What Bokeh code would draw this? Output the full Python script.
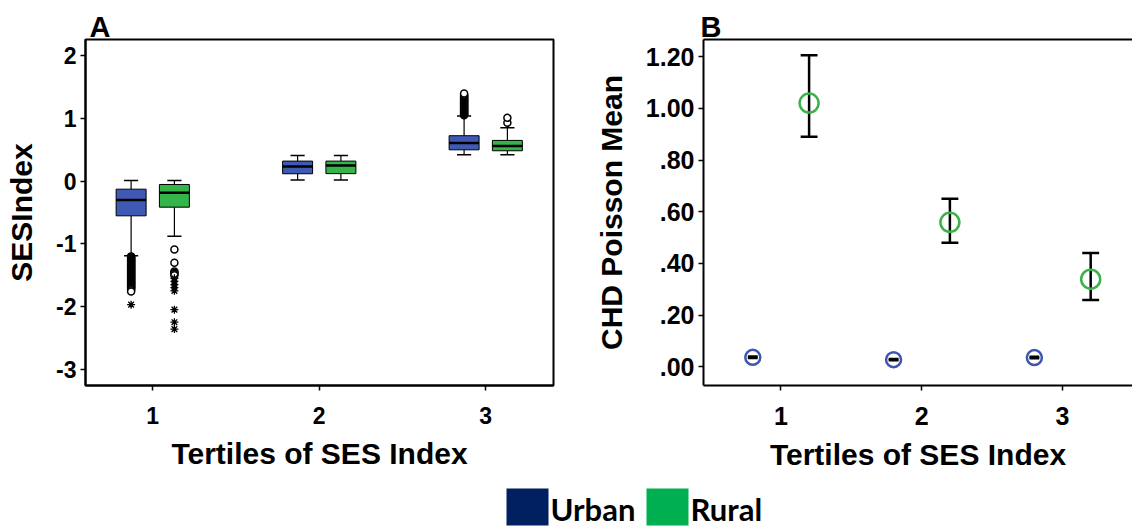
from bokeh.plotting import figure
from bokeh.layouts import row, column
from bokeh.models import Range1d, FixedTicker, LinearAxis, CustomJSTickFormatter
from bokeh.core.properties import value
from bokeh.embed import file_html
from bokeh.resources import INLINE

# ---------------- data ----------------
tertiles = [1, 2, 3]
groups = ["Urban", "Rural"]

# Panel A: SES index distribution by tertile (box plot summary)
urban_q1 = [-0.553, 0.118, 0.500]
urban_med = [-0.300, 0.235, 0.607]
urban_q3 = [-0.128, 0.320, 0.725]
urban_lo_whisker = [-1.19, 0.02, 0.42]
urban_hi_whisker = [0.01, 0.41, 1.04]

rural_q1 = [-0.415, 0.120, 0.485]
rural_med = [-0.186, 0.250, 0.560]
rural_q3 = [-0.053, 0.320, 0.650]
rural_lo_whisker = [-0.88, 0.02, 0.42]
rural_hi_whisker = [0.01, 0.41, 0.853]

# outliers (circles) and extreme values (asterisks)
urban_outliers_t1 = [-1.20, -1.21, -1.22, -1.23, -1.24, -1.25, -1.26, -1.27, -1.28,
                     -1.29, -1.30, -1.31, -1.32, -1.33, -1.34, -1.35, -1.36, -1.37,
                     -1.38, -1.39, -1.40, -1.41, -1.42, -1.43, -1.44, -1.45, -1.46,
                     -1.47, -1.48, -1.49, -1.50, -1.51, -1.52, -1.53, -1.54, -1.55,
                     -1.56, -1.57, -1.58, -1.59, -1.60, -1.61, -1.62, -1.63, -1.64,
                     -1.65, -1.66, -1.67, -1.68, -1.69, -1.70, -1.71, -1.72, -1.74,
                     -1.76]
urban_extremes_t1 = [-1.97]
rural_outliers_t1 = [-1.09, -1.30, -1.44, -1.46, -1.48, -1.50]
rural_extremes_t1 = [-1.55, -1.60, -1.65, -1.70, -1.75, -2.05, -2.25, -2.36]
urban_outliers_t3 = [1.05, 1.06, 1.07, 1.08, 1.09, 1.10, 1.11, 1.12, 1.13, 1.14,
                     1.15, 1.16, 1.17, 1.18, 1.19, 1.20, 1.21, 1.22, 1.23, 1.24,
                     1.25, 1.26, 1.27, 1.28, 1.29, 1.30, 1.31, 1.32, 1.33, 1.34,
                     1.35, 1.36, 1.37, 1.38, 1.40]
rural_outliers_t3 = [0.93, 1.01]

# Panel B: CHD Poisson mean with 95% CI
urban_mean = [0.037, 0.028, 0.036]
urban_ci_lo = [0.034, 0.026, 0.033]
urban_ci_hi = [0.040, 0.030, 0.039]
rural_mean = [1.020, 0.559, 0.339]
rural_ci_lo = [0.890, 0.480, 0.259]
rural_ci_hi = [1.205, 0.650, 0.440]

y_ticks_a = [-3, -2, -1, 0, 1, 2]
y_labels_a = ["-3", "-2", "-1", "0", "1", "2"]
y_ticks_b = [0.0, 0.2, 0.4, 0.6, 0.8, 1.0, 1.2]
y_labels_b = [".00", ".20", ".40", ".60", ".80", "1.00", "1.20"]

# ---------------- styling ----------------
FONT = "Liberation Sans"
BOX_COLORS = {"Urban": "#3F5AB4", "Rural": "#35B44A"}
MARK_COLORS = {"Urban": "#3F55B0", "Rural": "#3DB24A"}
LEGEND_COLORS = ["#002060", "#00B050"]

PANEL_H = 473
BOTTOM = 88
LEGEND_H = 531 - PANEL_H

LABEL_JS = """
for (let i = 0; i < vals.length; i++) {
    if (Math.abs(vals[i] - tick) < 1e-9) { return labs[i]; }
}
return '';
"""


def style_axes(p, tick_size):
    for ax in (p.xaxis[0], p.yaxis[0]):
        ax.axis_line_width = 2
        ax.axis_line_color = "black"
        ax.major_tick_line_width = 1.5
        ax.major_tick_out = 5
        ax.major_tick_in = 0
        ax.minor_tick_line_color = None
        ax.major_label_text_font = FONT
        ax.major_label_text_font_style = "bold"
        ax.major_label_text_font_size = tick_size
        ax.major_label_text_color = "black"
        ax.axis_label_text_font = FONT
        ax.axis_label_text_font_style = "bold"
        ax.axis_label_text_font_size = "30px"
        ax.axis_label_text_color = "black"
    p.xaxis[0].major_label_standoff = 16
    p.xaxis[0].axis_label_standoff = 10
    p.yaxis[0].major_label_standoff = 4
    p.yaxis[0].axis_label_standoff = 15
    p.xgrid.visible = False
    p.ygrid.visible = False
    p.background_fill_color = "white"
    p.border_fill_color = "white"


def style_title(p, offset):
    p.title.text_font = FONT
    p.title.text_font_size = "29px"
    p.title.text_font_style = "bold"
    p.title.text_color = "black"
    p.title.align = "left"
    p.title.offset = offset
    p.title.standoff = -6


# ---------------- Panel A ----------------
pA = figure(width=590, height=PANEL_H, x_range=Range1d(0.596, 3.407),
            y_range=Range1d(-3.26, 2.26), min_border_left=85, min_border_right=37,
            min_border_top=39, min_border_bottom=BOTTOM, output_backend="svg",
            toolbar_location=None, title="A")
pA.outline_line_color = "black"
pA.outline_line_width = 2
style_title(pA, 4)
style_axes(pA, "23px")
pA.xaxis[0].ticker = FixedTicker(ticks=tertiles)
pA.yaxis[0].ticker = FixedTicker(ticks=y_ticks_a)
pA.yaxis[0].formatter = CustomJSTickFormatter(
    args=dict(vals=y_ticks_a, labs=y_labels_a), code=LABEL_JS)
pA.xaxis[0].axis_label = "Tertiles of SES Index"
pA.yaxis[0].axis_label = "SESIndex"

box_offset = 0.13
box_width = 0.18
cap_width = 0.085

box_stats = {
    "Urban": (urban_q1, urban_med, urban_q3, urban_lo_whisker, urban_hi_whisker, -box_offset),
    "Rural": (rural_q1, rural_med, rural_q3, rural_lo_whisker, rural_hi_whisker, box_offset),
}

for name, (q1, med, q3, lw, uw, off) in box_stats.items():
    xs = [t + off for t in tertiles]
    # whisker stems
    pA.segment(x0=xs, y0=q3, x1=xs, y1=uw, line_color="black", line_width=1.2)
    pA.segment(x0=xs, y0=q1, x1=xs, y1=lw, line_color="black", line_width=1.2)
    # whisker caps
    pA.segment(x0=[x - cap_width / 2 for x in xs], y0=uw,
               x1=[x + cap_width / 2 for x in xs], y1=uw, line_color="black", line_width=1.5)
    pA.segment(x0=[x - cap_width / 2 for x in xs], y0=lw,
               x1=[x + cap_width / 2 for x in xs], y1=lw, line_color="black", line_width=1.5)
    # boxes
    pA.vbar(x=xs, width=box_width, top=q3, bottom=q1, fill_color=BOX_COLORS[name],
            line_color="black", line_width=1)
    # medians
    pA.segment(x0=[x - box_width / 2 for x in xs], y0=med,
               x1=[x + box_width / 2 for x in xs], y1=med, line_color="black", line_width=2.5)

outlier_sets = [
    (1 - box_offset, urban_outliers_t1),
    (1 + box_offset, rural_outliers_t1),
    (3 - box_offset, urban_outliers_t3),
    (3 + box_offset, rural_outliers_t3),
]
for xpos, vals in outlier_sets:
    pA.scatter(x=[xpos] * len(vals), y=vals, marker="circle", size=7,
               fill_color="white", line_color="black", line_width=1.5)

extreme_sets = [
    (1 - box_offset, urban_extremes_t1),
    (1 + box_offset, rural_extremes_t1),
]
for xpos, vals in extreme_sets:
    pA.scatter(x=[xpos] * len(vals), y=vals, marker="asterisk", size=8,
               line_color="black", line_width=1.3)

# ---------------- Panel B ----------------
pB = figure(width=542, height=PANEL_H, x_range=Range1d(0.45, 3.497),
            y_range=Range1d(-0.072, 1.266), min_border_left=113, min_border_right=0,
            min_border_top=39, min_border_bottom=BOTTOM, output_backend="svg",
            toolbar_location=None, title="B")
pB.outline_line_color = None
style_title(pB, -3)
style_axes(pB, "25px")
pB.xaxis[0].ticker = FixedTicker(ticks=tertiles)
pB.yaxis[0].ticker = FixedTicker(ticks=y_ticks_b)
pB.yaxis[0].formatter = CustomJSTickFormatter(
    args=dict(vals=y_ticks_b, labs=y_labels_b), code=LABEL_JS)
pB.xaxis[0].axis_label = "Tertiles of SES Index"
pB.yaxis[0].axis_label = "CHD Poisson Mean"

# top border line of the frame
top_axis = LinearAxis(ticker=FixedTicker(ticks=[]), axis_line_width=2,
                      axis_line_color="black", major_tick_line_color=None,
                      minor_tick_line_color=None, major_label_text_font_size="0px")
pB.add_layout(top_axis, "above")

point_offset = 0.2
series_b = {
    "Urban": (urban_mean, urban_ci_lo, urban_ci_hi, -point_offset, 0.07, 15),
    "Rural": (rural_mean, rural_ci_lo, rural_ci_hi, point_offset, 0.12, 19),
}
for name, (mean, lo, hi, off, cw, msize) in series_b.items():
    xs = [t + off for t in tertiles]
    pB.segment(x0=xs, y0=lo, x1=xs, y1=hi, line_color="black", line_width=2.5)
    pB.segment(x0=[x - cw / 2 for x in xs], y0=lo, x1=[x + cw / 2 for x in xs], y1=lo,
               line_color="black", line_width=2.5)
    pB.segment(x0=[x - cw / 2 for x in xs], y0=hi, x1=[x + cw / 2 for x in xs], y1=hi,
               line_color="black", line_width=2.5)
    pB.scatter(x=xs, y=mean, marker="circle", size=msize, fill_color=None,
               line_color=MARK_COLORS[name], line_width=2.5)

# ---------------- Legend strip ----------------
pL = figure(width=1132, height=LEGEND_H, x_range=Range1d(0, 1132),
            y_range=Range1d(0, LEGEND_H), min_border=0, output_backend="svg",
            toolbar_location=None)
pL.xaxis.visible = False
pL.yaxis.visible = False
pL.xgrid.visible = False
pL.ygrid.visible = False
pL.outline_line_color = None
pL.background_fill_color = "white"
pL.border_fill_color = "white"

swatch_left = [506, 646]
swatch_size = 42
pL.quad(left=swatch_left, right=[l + swatch_size for l in swatch_left],
        top=[43, 43], bottom=[6, 6], fill_color=LEGEND_COLORS, line_color=None)
pL.text(x=[l + swatch_size + 2 for l in swatch_left], y=[4, 4], text=groups,
        text_font=value("Lato"), text_font_style="bold", text_font_size="31px",
        text_color="black", text_baseline="bottom", text_align="left")

layout = column(row(pA, pB, spacing=0), pL, spacing=0)
open("out.html", "w").write(file_html(layout, INLINE))
